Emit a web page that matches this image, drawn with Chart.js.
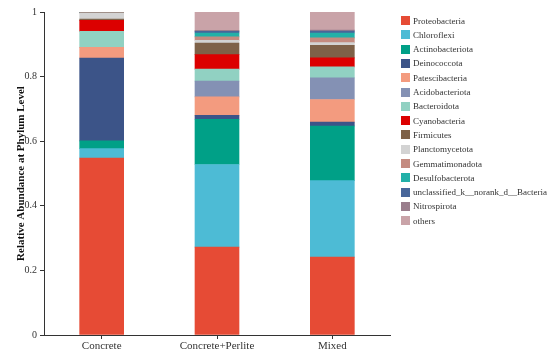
<!DOCTYPE html>
<html>
<head>
<meta charset="utf-8">
<script src="https://cdn.jsdelivr.net/npm/chart.js@4/dist/chart.umd.min.js"></script>
<style>
  html, body { margin: 0; padding: 0; background: #fff; }
  #wrap { position: relative; width: 550px; height: 356px; }
  #legend { position: absolute; left: 401px; top: 0; font-family: "Liberation Serif", serif; font-size: 9px; color: #333; }
  .item { position: absolute; left: 0; white-space: nowrap; height: 10px; line-height: 10px; }
  .sw { position: absolute; left: 0; top: 0.5px; width: 9px; height: 9px; }
  .lbl { position: absolute; left: 12px; top: 0; }
</style>
</head>
<body>
<div id="wrap">
  <canvas id="chart" width="550" height="356"></canvas>
  <div id="legend"></div>
</div>
<script>
const samples = ['Concrete', 'Concrete+Perlite', 'Mixed'];

const phyla = [
  'Proteobacteria', 'Chloroflexi', 'Actinobacteriota', 'Deinococcota',
  'Patescibacteria', 'Acidobacteriota', 'Bacteroidota', 'Cyanobacteria',
  'Firmicutes', 'Planctomycetota', 'Gemmatimonadota', 'Desulfobacterota',
  'unclassified_k__norank_d__Bacteria', 'Nitrospirota', 'others'
];

const colors = [
  '#E64B35', '#4DBBD5', '#00A087', '#3C5488',
  '#F39B7F', '#8491B4', '#91D1C2', '#DC0000',
  '#7E6148', '#D3D3D3', '#C48B80', '#22B0A8',
  '#48669A', '#9A7D8C', '#C9A3A8'
];

// relative abundance per phylum: [Concrete, Concrete+Perlite, Mixed]
const proteobacteria   = [0.548, 0.272, 0.241];
const chloroflexi      = [0.029, 0.256, 0.237];
const actinobacteriota = [0.024, 0.140, 0.169];
const deinococcota     = [0.256, 0.012, 0.012];
const patescibacteria  = [0.034, 0.057, 0.070];
const acidobacteriota  = [0.000, 0.049, 0.067];
const bacteroidota     = [0.049, 0.037, 0.034];
const cyanobacteria    = [0.034, 0.045, 0.028];
const firmicutes       = [0.004, 0.036, 0.039];
const planctomycetota  = [0.018, 0.008, 0.008];
const gemmatimonadota  = [0.002, 0.011, 0.015];
const desulfobacterota = [0.0005, 0.012, 0.015];
const unclassified     = [0.0005, 0.005, 0.006];
const nitrospirota     = [0.000, 0.003, 0.003];
const others           = [0.001, 0.057, 0.056];

const values = [
  proteobacteria, chloroflexi, actinobacteriota, deinococcota,
  patescibacteria, acidobacteriota, bacteroidota, cyanobacteria,
  firmicutes, planctomycetota, gemmatimonadota, desulfobacterota,
  unclassified, nitrospirota, others
];

const yTicks = [0, 0.2, 0.4, 0.6, 0.8, 1];

const font = 'Liberation Serif';
const ink = '#333';

new Chart(document.getElementById('chart'), {
  type: 'bar',
  data: {
    labels: samples,
    datasets: phyla.map((name, i) => ({
      label: name,
      data: values[i],
      backgroundColor: colors[i],
      borderWidth: 0,
      barThickness: 44
    }))
  },
  options: {
    responsive: false,
    animation: false,
    layout: { padding: { top: 12, right: 160, left: 0, bottom: 0 } },
    plugins: { legend: { display: false }, tooltip: { enabled: false } },
    scales: {
      x: {
        stacked: true,
        grid: { display: true, offset: false, drawOnChartArea: false, drawTicks: true, tickLength: 4, color: ink },
        border: { display: true, color: ink, width: 1 },
        ticks: { color: ink, font: { family: font, size: 11 }, padding: 1 },
        afterFit: s => { s.height = 21; }
      },
      y: {
        stacked: true,
        min: 0,
        max: 1,
        afterBuildTicks: s => { s.ticks = yTicks.map(v => ({ value: v })); },
        grid: { display: true, drawOnChartArea: false, drawTicks: true, tickLength: 4, color: ink },
        border: { display: true, color: ink, width: 1 },
        ticks: {
          color: ink,
          font: { family: font, size: 10 },
          padding: 3,
          callback: v => String(Math.round(v * 10) / 10)
        },
        title: {
          display: true,
          text: 'Relative Abundance at Phylum Level',
          color: '#111',
          font: { family: font, size: 11, weight: 'bold' },
          padding: { top: 15, bottom: 0 }
        },
        afterFit: s => { s.width = 44; }
      }
    }
  }
});

// legend on the right, same order as the stack
const legend = document.getElementById('legend');
phyla.forEach((name, i) => {
  const item = document.createElement('div');
  item.className = 'item';
  item.style.top = (15.5 + i * 14.3) + 'px';
  item.innerHTML = '<span class="sw" style="background:' + colors[i] + '"></span><span class="lbl">' + name + '</span>';
  legend.appendChild(item);
});
</script>
</body>
</html>
